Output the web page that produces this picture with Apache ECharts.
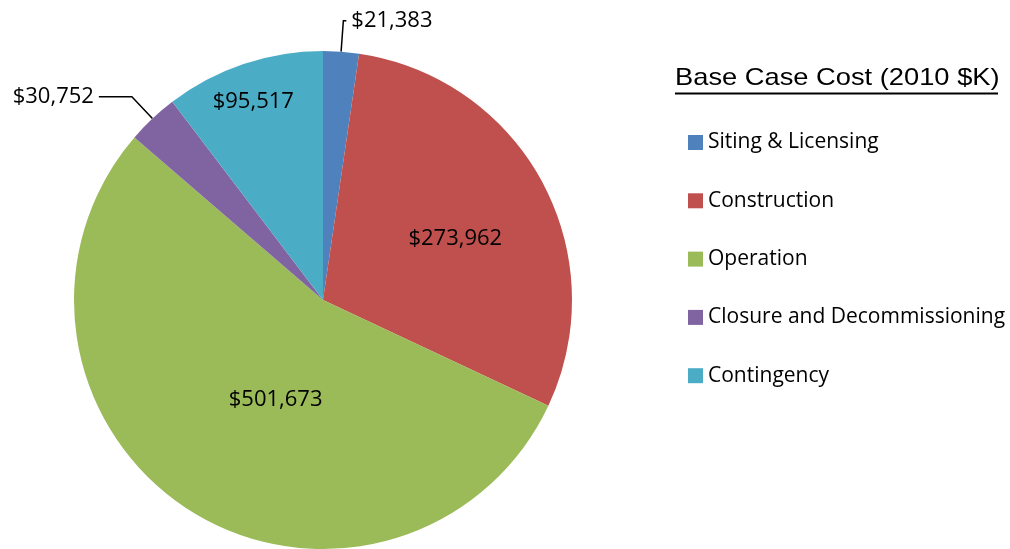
<!DOCTYPE html>
<html>
<head>
<meta charset="utf-8">
<script src="https://cdn.jsdelivr.net/npm/echarts@6/dist/echarts.min.js"></script>
<style>
html,body{margin:0;padding:0;background:#fff;}
#chart{width:1010px;height:549px;}
</style>
</head>
<body>
<div id="chart"></div>
<script>
const categories = ['Siting & Licensing', 'Construction', 'Operation', 'Closure and Decommissioning', 'Contingency'];
const values = [21383, 273962, 501673, 30752, 95517];
const colors = ['#4F81BD', '#C0504D', '#9BBB59', '#8064A2', '#4BACC6'];
const chartTitle = 'Base Case Cost (2010 $K)';

// label styling (positions/lines), not data
const labelPlacement = ['outside', 'inside', 'inside', 'outside', 'inside'];
const lineLens = [[31, 3], null, null, [30, 33], null];
const labelShift = [null, [20, -1], [22, -7], null, [-29, -77]];

const chart = echarts.init(document.getElementById('chart'), null, {renderer: 'canvas'});
const fmt = v => '$' + v.toLocaleString('en-US');

const data = categories.map((name, i) => {
  const item = {
    name: name,
    value: values[i],
    itemStyle: {color: colors[i]},
    label: {position: labelPlacement[i]}
  };
  if (lineLens[i]) {
    item.labelLine = {show: true, length: lineLens[i][0], length2: lineLens[i][1], smooth: false,
      lineStyle: {color: '#000', width: 1.5}};
  } else {
    item.labelLine = {show: false};
  }
  return item;
});

chart.setOption({
  animation: false,
  graphic: [{
    type: 'text',
    x: 675,
    y: 78.5,
    scaleX: 1.137,
    style: {
      text: chartTitle,
      font: '24px "Liberation Sans"',
      fill: '#000',
      align: 'left',
      verticalAlign: 'middle'
    }
  }, {
    type: 'line',
    shape: {x1: 675, y1: 93.5, x2: 998, y2: 93.5},
    style: {stroke: '#000', lineWidth: 2}
  }],
  legend: {
    orient: 'vertical',
    left: 688,
    top: 132,
    padding: 0,
    itemWidth: 15,
    itemHeight: 15,
    itemGap: 37.3,
    icon: 'rect',
    data: categories,
    textStyle: {fontFamily: 'Open Sans', fontSize: 21, color: '#000', lineHeight: 21},
    selectedMode: false
  },
  series: [{
    type: 'pie',
    center: [323, 300],
    radius: 249,
    startAngle: 90,
    clockwise: true,
    avoidLabelOverlap: false,
    emphasis: {disabled: true},
    itemStyle: {borderWidth: 0},
    label: {
      show: true,
      formatter: p => fmt(p.value),
      fontFamily: 'Open Sans',
      fontSize: 22,
      color: '#000',
      distanceToLabelLine: 5
    },
    labelLayout: function (params) {
      const s = labelShift[params.dataIndex];
      return s ? {dx: s[0], dy: s[1]} : {};
    },
    data: data
  }]
});
</script>
</body>
</html>
